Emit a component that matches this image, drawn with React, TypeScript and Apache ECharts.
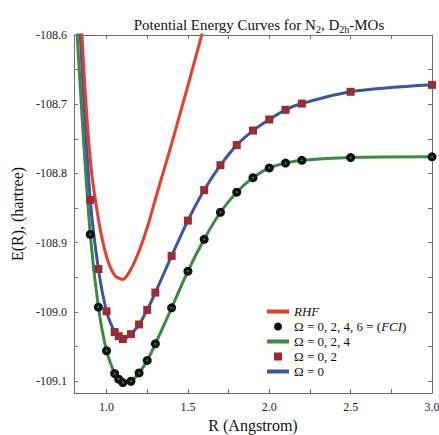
import React, { useEffect, useRef } from "react";
import * as echarts from "echarts";

// Bond lengths (Angstrom) of the computed points
const R = [0.9, 0.95, 1.0, 1.05, 1.075, 1.1, 1.15, 1.2, 1.25, 1.3, 1.4, 1.5, 1.6, 1.7, 1.8, 1.9, 2.0, 2.1, 2.2, 2.5, 3.0];
// Omega = 0,2,4,6 (FCI) energies (hartree)
const E_FCI = [-108.888, -108.993, -109.056, -109.089, -109.097, -109.102, -109.1, -109.088, -109.07, -109.046, -108.994, -108.941, -108.895, -108.856, -108.827, -108.806, -108.792, -108.785, -108.781, -108.777, -108.776];
// Omega = 0,2,4 curve (coincides with FCI)
const E_O024 = [-108.888, -108.993, -109.056, -109.089, -109.097, -109.102, -109.1, -109.088, -109.07, -109.046, -108.994, -108.941, -108.895, -108.856, -108.827, -108.806, -108.792, -108.785, -108.781, -108.777, -108.776];
// Omega = 0,2 points
const E_O02 = [-108.838, -108.938, -108.999, -109.029, -109.035, -109.039, -109.032, -109.018, -108.997, -108.972, -108.919, -108.868, -108.824, -108.788, -108.759, -108.738, -108.722, -108.708, -108.699, -108.682, -108.672];
// Omega = 0 curve (coincides with Omega = 0,2)
const E_O0 = [-108.838, -108.938, -108.999, -109.029, -109.035, -109.039, -109.032, -109.018, -108.997, -108.972, -108.919, -108.868, -108.824, -108.788, -108.759, -108.738, -108.722, -108.708, -108.699, -108.682, -108.672];
// short-distance part of the curves (they leave the frame at the top)
const R_SHORT = [0.8, 0.85];
const E_O024_SHORT = [-108.52, -108.72];
const E_O0_SHORT = [-108.42, -108.65];
// RHF curve
const R_RHF = [0.8, 0.85, 0.9, 0.95, 1.0, 1.05, 1.1, 1.15, 1.2, 1.25, 1.3, 1.35, 1.4, 1.45, 1.5, 1.55, 1.6, 1.65];
const E_RHF = [-108.35, -108.605, -108.78, -108.866, -108.92, -108.947, -108.953, -108.938, -108.912, -108.878, -108.837, -108.797, -108.757, -108.715, -108.673, -108.63, -108.587, -108.545];

// axis ticks / labels
const TICK_X = [1.0, 1.25, 1.5, 1.75, 2.0, 2.25, 2.5, 2.75, 3.0];
const LABEL_X = [1.0, 1.5, 2.0, 2.5, 3.0];
const TICK_Y = [-109.1, -109.05, -109.0, -108.95, -108.9, -108.85, -108.8, -108.75, -108.7, -108.65, -108.6];
const LABEL_Y = [-109.1, -109.0, -108.9, -108.8, -108.7, -108.6];

const NAME_RHF = "RHF";
const NAME_FCI = "Ω = 0, 2, 4, 6 = (FCI)";
const NAME_O024 = "Ω = 0, 2, 4";
const NAME_O02 = "Ω = 0, 2";
const NAME_O0 = "Ω = 0";

const FONT = "'Liberation Serif', 'Times New Roman', serif";
const RED = "#ee3a2a";
const GREEN = "#3b8a40";
const BLUE = "#3b55a5";
const BROWN = "#a3282c";
const AXIS = "#6e6e6e";

const zip = (xs: number[], ys: number[]) => xs.map((x, i) => [x, ys[i]]);

export default function App() {
  const ref = useRef<HTMLDivElement>(null);
  useEffect(() => {
    if (!ref.current) return;
    const chart = echarts.init(ref.current, undefined, { renderer: "svg" });

    const legendRich = {
      n: { fontFamily: FONT, fontSize: 13, color: "#111", lineHeight: 14 },
      i: { fontFamily: FONT, fontSize: 13, fontStyle: "italic", color: "#111", lineHeight: 14 },
      sp: { width: 7, lineHeight: 14 },
    };
    const legendFmt = (name: string) => {
      if (name === NAME_RHF) return "{i|RHF}";
      if (name === NAME_FCI) return "{sp| }{n|Ω = 0, 2, 4, 6 = (}{i|FCI}{n|)}";
      if (name === NAME_O02) return "{sp| }{n|" + name + "}";
      return "{n|" + name + "}";
    };
    const mkLegend = (name: string, cy: number, isLine: boolean, icon: string) => ({
      data: [{ name, icon }],
      left: isLine ? 267 : 274,
      top: cy - 7,
      padding: 0,
      itemWidth: isLine ? 22 : 8,
      itemHeight: isLine ? 4 : 8,
      selectedMode: false,
      formatter: legendFmt,
      textStyle: { rich: legendRich },
    });

    const axisLine = { show: true, onZero: false, lineStyle: { color: AXIS, width: 1 } };
    const tickStyle = { color: AXIS, width: 1 };
    const labelStyle = { fontFamily: FONT, fontSize: 12, color: "#222" };

    chart.setOption({
      animation: false,
      backgroundColor: "#fff",
      title: {
        text: "{a|Potential Energy Curves for N}{s|2}{a|, D}{s|2h}{a|-MOs}",
        left: 254,
        top: 11,
        textAlign: "center",
        textStyle: {
          fontWeight: "normal",
          rich: {
            a: { fontFamily: FONT, fontSize: 15, fontWeight: "normal", color: "#111", lineHeight: 18 },
            s: { fontFamily: FONT, fontSize: 10, fontWeight: "normal", color: "#111", lineHeight: 10, verticalAlign: "bottom" },
          },
        },
      },
      grid: { left: 74, right: 7, top: 35, bottom: 42, outerBoundsMode: "none", containLabel: false },
      xAxis: [
        {
          type: "value",
          min: 0.8,
          max: 3.0,
          position: "bottom",
          axisLine,
          axisTick: { show: true, inside: true, length: 4, customValues: TICK_X, lineStyle: tickStyle },
          axisLabel: { customValues: LABEL_X, formatter: (v: number) => v.toFixed(1), margin: 8, ...labelStyle },
          splitLine: { show: false },
          name: "R (Angstrom)",
          nameLocation: "middle",
          nameGap: 23,
          nameTextStyle: { fontFamily: FONT, fontSize: 16, color: "#111" },
        },
        {
          type: "value",
          min: 0.8,
          max: 3.0,
          position: "top",
          axisLine,
          axisTick: { show: true, inside: true, length: 4, customValues: TICK_X, lineStyle: tickStyle },
          axisLabel: { show: false },
          splitLine: { show: false },
        },
      ],
      yAxis: [
        {
          type: "value",
          min: -109.117,
          max: -108.6,
          position: "left",
          axisLine,
          axisTick: { show: true, inside: true, length: 4, customValues: TICK_Y, lineStyle: tickStyle },
          axisLabel: { customValues: LABEL_Y, formatter: (v: number) => v.toFixed(1), margin: 7, ...labelStyle },
          splitLine: { show: false },
          name: "E(R), (hartree)",
          nameLocation: "middle",
          nameGap: 45,
          nameTextStyle: { fontFamily: FONT, fontSize: 16, color: "#111" },
        },
        {
          type: "value",
          min: -109.117,
          max: -108.6,
          position: "right",
          axisLine,
          axisTick: { show: true, inside: true, length: 4, customValues: TICK_Y, lineStyle: tickStyle },
          axisLabel: { show: false },
          splitLine: { show: false },
        },
      ],
      legend: [
        mkLegend(NAME_RHF, 312, true, "rect"),
        mkLegend(NAME_FCI, 327, false, "circle"),
        mkLegend(NAME_O024, 342, true, "rect"),
        mkLegend(NAME_O02, 357, false, "rect"),
        mkLegend(NAME_O0, 372, true, "rect"),
      ],
      series: [
        {
          name: NAME_O024,
          type: "line",
          data: zip(R_SHORT.concat(R), E_O024_SHORT.concat(E_O024)),
          smooth: 0.3,
          showSymbol: false,
          clip: true,
          z: 2,
          itemStyle: { color: GREEN },
          lineStyle: { color: GREEN, width: 3 },
        },
        {
          name: NAME_O0,
          type: "line",
          data: zip(R_SHORT.concat(R), E_O0_SHORT.concat(E_O0)),
          smooth: 0.3,
          showSymbol: false,
          clip: true,
          z: 2,
          itemStyle: { color: BLUE },
          lineStyle: { color: BLUE, width: 3 },
        },
        {
          name: NAME_RHF,
          type: "line",
          data: zip(R_RHF, E_RHF),
          smooth: 0.3,
          showSymbol: false,
          clip: true,
          z: 3,
          itemStyle: { color: RED },
          lineStyle: { color: RED, width: 3 },
        },
        {
          name: NAME_FCI,
          type: "scatter",
          data: zip(R, E_FCI),
          symbol: "circle",
          symbolSize: 9,
          z: 4,
          itemStyle: { color: "#111", opacity: 1 },
        },
        {
          name: NAME_O02,
          type: "scatter",
          data: zip(R, E_O02),
          symbol: "rect",
          symbolSize: 8,
          z: 4,
          itemStyle: { color: BROWN, opacity: 1 },
        },
        {
          name: "Ω = 0, 2, 4 points",
          type: "scatter",
          data: zip(R, E_O024),
          symbol: "circle",
          symbolSize: 2,
          silent: true,
          z: 5,
          itemStyle: { color: GREEN, opacity: 1 },
        },
        {
          name: "Ω = 0 points",
          type: "scatter",
          data: zip(R, E_O0),
          symbol: "circle",
          symbolSize: 2,
          silent: true,
          z: 5,
          itemStyle: { color: BLUE, opacity: 1 },
        },
      ],
    });
    return () => chart.dispose();
  }, []);
  return (
    <div
      ref={ref}
      style={{ position: "fixed", left: 0, top: 0, width: 439, height: 435 }}
    />
  );
}
